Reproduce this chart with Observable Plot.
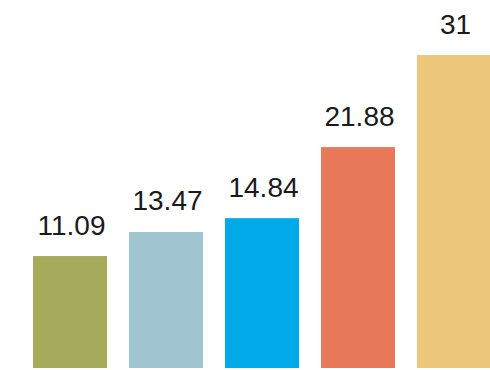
<!DOCTYPE html>
<html>
<head>
<meta charset="utf-8">
<script src="https://cdn.jsdelivr.net/npm/d3@7"></script>
<script src="https://cdn.jsdelivr.net/npm/@observablehq/plot@0.6"></script>
<style>
  html, body { margin: 0; padding: 0; background: #fff; overflow: hidden; }
  #chart { width: 490px; height: 370px; overflow: hidden; }
</style>
</head>
<body>
<div id="chart"></div>
<script>
const categories = ["A", "B", "C", "D", "E"];
const values = [11.09, 13.47, 14.84, 21.88, 31];
const colors = ["#a6aa5b", "#a0c5d0", "#00a9e8", "#e8785a", "#ebc67b"];

const data = categories.map((c, i) => ({ cat: c, value: values[i] }));

const chart = Plot.plot({
  width: 490,
  height: 370,
  marginTop: 55,
  marginBottom: 2,
  marginLeft: 0,
  marginRight: 0,
  style: { background: "#fff", overflow: "hidden" },
  x: { domain: categories, range: [9, 516], padding: 0.227, axis: null },
  y: { domain: [0, 31], axis: null },
  color: { domain: categories, range: colors },
  marks: [
    Plot.barY(data, { x: "cat", y: "value", fill: "cat" }),
    Plot.text(data, {
      x: "cat",
      y: "value",
      text: d => String(d.value),
      dy: -22,
      dx: 1,
      lineAnchor: "bottom",
      fontSize: 28,
      fontFamily: "Liberation Sans, Arial, sans-serif",
      fill: "#1a1a1a",
      letterSpacing: 2.2
    })
  ]
});
document.getElementById("chart").appendChild(chart);
</script>
</body>
</html>
